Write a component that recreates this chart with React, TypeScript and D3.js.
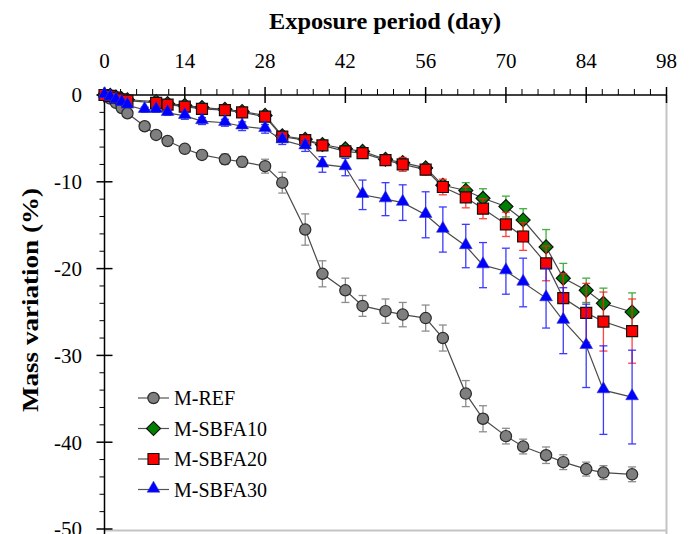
import React from "react";
import * as d3 from "d3";

// exposure days
const daysAll = [0, 1, 2, 3, 4, 7, 9, 11, 14, 17, 21, 24, 28, 31, 35, 38, 42, 45, 49, 52, 56, 59, 63, 66, 70, 73, 77, 80, 84, 87, 92];
const daysNo7 = [0, 1, 2, 3, 4, 9, 11, 14, 17, 21, 24, 28, 31, 35, 38, 42, 45, 49, 52, 56, 59, 63, 66, 70, 73, 77, 80, 84, 87, 92];

// mass variation (%) and std dev
const refMean = [0, -0.4, -0.9, -1.5, -2.1, -3.6, -4.6, -5.3, -6.2, -6.9, -7.4, -7.7, -8.2, -10.1, -15.5, -20.6, -22.5, -24.3, -24.9, -25.3, -25.7, -28.0, -34.4, -37.3, -39.3, -40.5, -41.5, -42.3, -43.1, -43.5, -43.7];
const refErr = [0, 0.1, 0.2, 0.2, 0.3, 0.3, 0.3, 0.4, 0.5, 0.5, 0.6, 0.6, 0.8, 1.2, 1.8, 1.5, 1.4, 1.2, 1.4, 1.4, 1.5, 1.5, 1.5, 1.5, 0.9, 0.85, 0.95, 0.85, 0.8, 0.8, 0.85];

const sb10Mean = [0, -0.05, -0.25, -0.45, -0.55, -0.75, -1.0, -1.2, -1.45, -1.65, -1.9, -2.35, -4.7, -5.1, -5.7, -6.2, -6.5, -7.4, -7.8, -8.4, -10.4, -11.0, -11.9, -12.85, -14.4, -17.5, -21.1, -22.5, -24.0, -25.0];
const sb10Err = [0, 0.1, 0.1, 0.1, 0.1, 0.2, 0.2, 0.2, 0.2, 0.2, 0.2, 0.3, 0.3, 0.3, 0.3, 0.3, 0.3, 0.3, 0.3, 0.4, 0.5, 0.9, 1.1, 1.2, 1.3, 2.0, 1.7, 1.4, 1.75, 2.2];

const sb20Mean = [0, -0.1, -0.3, -0.5, -0.65, -0.9, -1.1, -1.35, -1.6, -1.75, -2.0, -2.5, -4.8, -5.2, -5.8, -6.5, -6.7, -7.5, -8.0, -8.6, -10.6, -11.8, -13.1, -14.9, -16.3, -19.4, -23.4, -25.1, -26.1, -27.2];
const sb20Err = [0, 0.1, 0.1, 0.1, 0.1, 0.2, 0.2, 0.2, 0.2, 0.2, 0.3, 0.3, 0.4, 0.4, 0.4, 0.5, 0.4, 0.5, 0.8, 0.6, 0.9, 1.2, 1.15, 1.4, 1.6, 2.0, 2.8, 3.4, 3.4, 3.7];

const sb30Mean = [0, -0.3, -0.6, -0.9, -1.2, -1.7, -1.7, -2.05, -2.4, -3.0, -3.2, -3.6, -3.9, -5.2, -5.9, -8.0, -8.3, -11.5, -12.0, -12.4, -13.8, -15.5, -17.4, -19.6, -20.3, -21.6, -23.4, -26.0, -28.9, -34.0, -34.8];
const sb30Err = [0, 0.15, 0.15, 0.15, 0.15, 0.3, 0.3, 0.3, 0.4, 0.4, 0.4, 0.5, 0.5, 0.5, 0.6, 0.9, 1.0, 1.7, 1.9, 2.05, 2.65, 2.6, 2.5, 2.6, 2.65, 2.8, 3.45, 3.8, 4.8, 5.1, 5.4];

const xTicks = [0, 14, 28, 42, 56, 70, 84, 98];
const yTicks = [0, -10, -20, -30, -40, -50];

const series = [
  { name: "M-REF", days: daysAll, mean: refMean, err: refErr, shape: "circle", fill: "#7f7f7f", stroke: "#2b2b2b", errColor: "#7a7a7a" },
  { name: "M-SBFA10", days: daysNo7, mean: sb10Mean, err: sb10Err, shape: "diamond", fill: "#008000", stroke: "#111", errColor: "#1fa01f" },
  { name: "M-SBFA20", days: daysNo7, mean: sb20Mean, err: sb20Err, shape: "square", fill: "#ff0000", stroke: "#111", errColor: "#ff2020" },
  { name: "M-SBFA30", days: daysAll, mean: sb30Mean, err: sb30Err, shape: "triangle", fill: "#0000ff", stroke: "#3535c8", errColor: "#1a1aff" },
];

const W = 692;
const H = 534;
const FONT = "'Liberation Serif', 'Times New Roman', serif";

const x = d3.scaleLinear().domain([0, 98]).range([104.5, 666.5]);
const y = d3.scaleLinear().domain([0, -50]).range([95, 529]);

const symbolPath = (shape: string) => {
  if (shape === "circle") return d3.symbol(d3.symbolCircle, 100)()!;
  if (shape === "square") return d3.symbol(d3.symbolSquare, 121)()!;
  if (shape === "diamond") return d3.symbol(d3.symbolSquare, 98)()!;
  return d3.symbol(d3.symbolTriangle, 70)()!;
};

const Marker = ({ s, cx, cy }: any) => (
  <path
    d={symbolPath(s.shape)}
    transform={`translate(${cx},${cy})${s.shape === "diamond" ? " rotate(45)" : ""}${s.shape === "triangle" ? " translate(0,-1)" : ""}`}
    fill={s.fill}
    stroke={s.stroke}
    strokeWidth={s.shape === "triangle" ? 0.6 : 1.2}
  />
);

export default function App() {
  const line = d3.line<number[]>().x((d) => x(d[0])).y((d) => y(d[1]));
  const minorX = d3.range(0, 98.01, 2.8).filter((v) => xTicks.every((t) => Math.abs(t - v) > 0.01));
  const minorY = d3.range(0, -50.01, -2).filter((v) => v % 10 !== 0);

  return (
    <svg width={W} height={H} style={{ position: "absolute", left: 0, top: 0, background: "#fff" }} fontFamily={FONT}>
      {/* frame */}
      <line x1={x(98)} x2={x(98)} y1={y(0)} y2={H} stroke="#c4c4c4" strokeWidth={2} />
      <line x1={x(0)} x2={x(98)} y1={y(-50) + 1.5} y2={y(-50) + 1.5} stroke="#c4c4c4" strokeWidth={2} />

      {/* top x axis */}
      <line x1={x(0)} x2={x(98)} y1={y(0)} y2={y(0)} stroke="#000" strokeWidth={1.5} />
      {minorX.map((v) => (
        <line key={"mx" + v} x1={x(v)} x2={x(v)} y1={y(0) - 6} y2={y(0)} stroke="#000" strokeWidth={1} />
      ))}
      {xTicks.map((t) => (
        <g key={"xt" + t}>
          <line x1={x(t)} x2={x(t)} y1={y(0) - 8} y2={y(0) + 8} stroke="#000" strokeWidth={1.5} />
          <text x={x(t)} y={68} textAnchor="middle" fontSize={21}>{t}</text>
        </g>
      ))}
      <text x={385} y={29} textAnchor="middle" fontSize={23} fontWeight="bold" textLength={232} lengthAdjust="spacingAndGlyphs">
        Exposure period (day)
      </text>

      {/* left y axis */}
      <line x1={x(0)} x2={x(0)} y1={y(0)} y2={H} stroke="#000" strokeWidth={1.5} />
      {minorY.map((v) => (
        <line key={"my" + v} x1={x(0) - 5} x2={x(0)} y1={y(v)} y2={y(v)} stroke="#000" strokeWidth={1} />
      ))}
      {yTicks.map((t) => (
        <g key={"yt" + t}>
          <line x1={x(0) - 8} x2={x(0) + 8} y1={y(t)} y2={y(t)} stroke="#000" strokeWidth={1.5} />
          <text x={82} y={y(t)} dy="0.35em" textAnchor="end" fontSize={21}>{t === 0 ? "0" : `-${Math.abs(t)}`}</text>
        </g>
      ))}
      <text
        transform={`translate(38,300) rotate(-90)`}
        textAnchor="middle"
        fontSize={23}
        fontWeight="bold"
        textLength={224}
        lengthAdjust="spacingAndGlyphs"
      >
        Mass variation (%)
      </text>

      {/* series */}
      {series.map((s) => {
        const pts = s.days.map((d, i) => [d, s.mean[i]]);
        return (
          <g key={s.name}>
            {s.days.map((d, i) =>
              s.err[i] > 0 ? (
                <g key={"e" + i} stroke={s.errColor} strokeWidth={1.3} opacity={0.85}>
                  <line x1={x(d)} x2={x(d)} y1={y(s.mean[i] + s.err[i])} y2={y(s.mean[i] - s.err[i])} />
                  <line x1={x(d) - 4} x2={x(d) + 4} y1={y(s.mean[i] + s.err[i])} y2={y(s.mean[i] + s.err[i])} />
                  <line x1={x(d) - 4} x2={x(d) + 4} y1={y(s.mean[i] - s.err[i])} y2={y(s.mean[i] - s.err[i])} />
                </g>
              ) : null
            )}
            <path d={line(pts)!} fill="none" stroke="#4a4a4a" strokeWidth={1.2} />
            {s.days.map((d, i) => (
              <Marker key={"m" + i} s={s} cx={x(d)} cy={y(s.mean[i])} />
            ))}
          </g>
        );
      })}

      {/* legend */}
      {series.map((s, i) => {
        const ly = 398 + i * 30.5;
        return (
          <g key={"lg" + s.name}>
            <line x1={138} x2={169} y1={ly} y2={ly} stroke="#555" strokeWidth={1.2} />
            <Marker s={s} cx={153.5} cy={ly} />
            <text x={174} y={ly} dy="0.35em" fontSize={20}>{s.name}</text>
          </g>
        );
      })}
    </svg>
  );
}
